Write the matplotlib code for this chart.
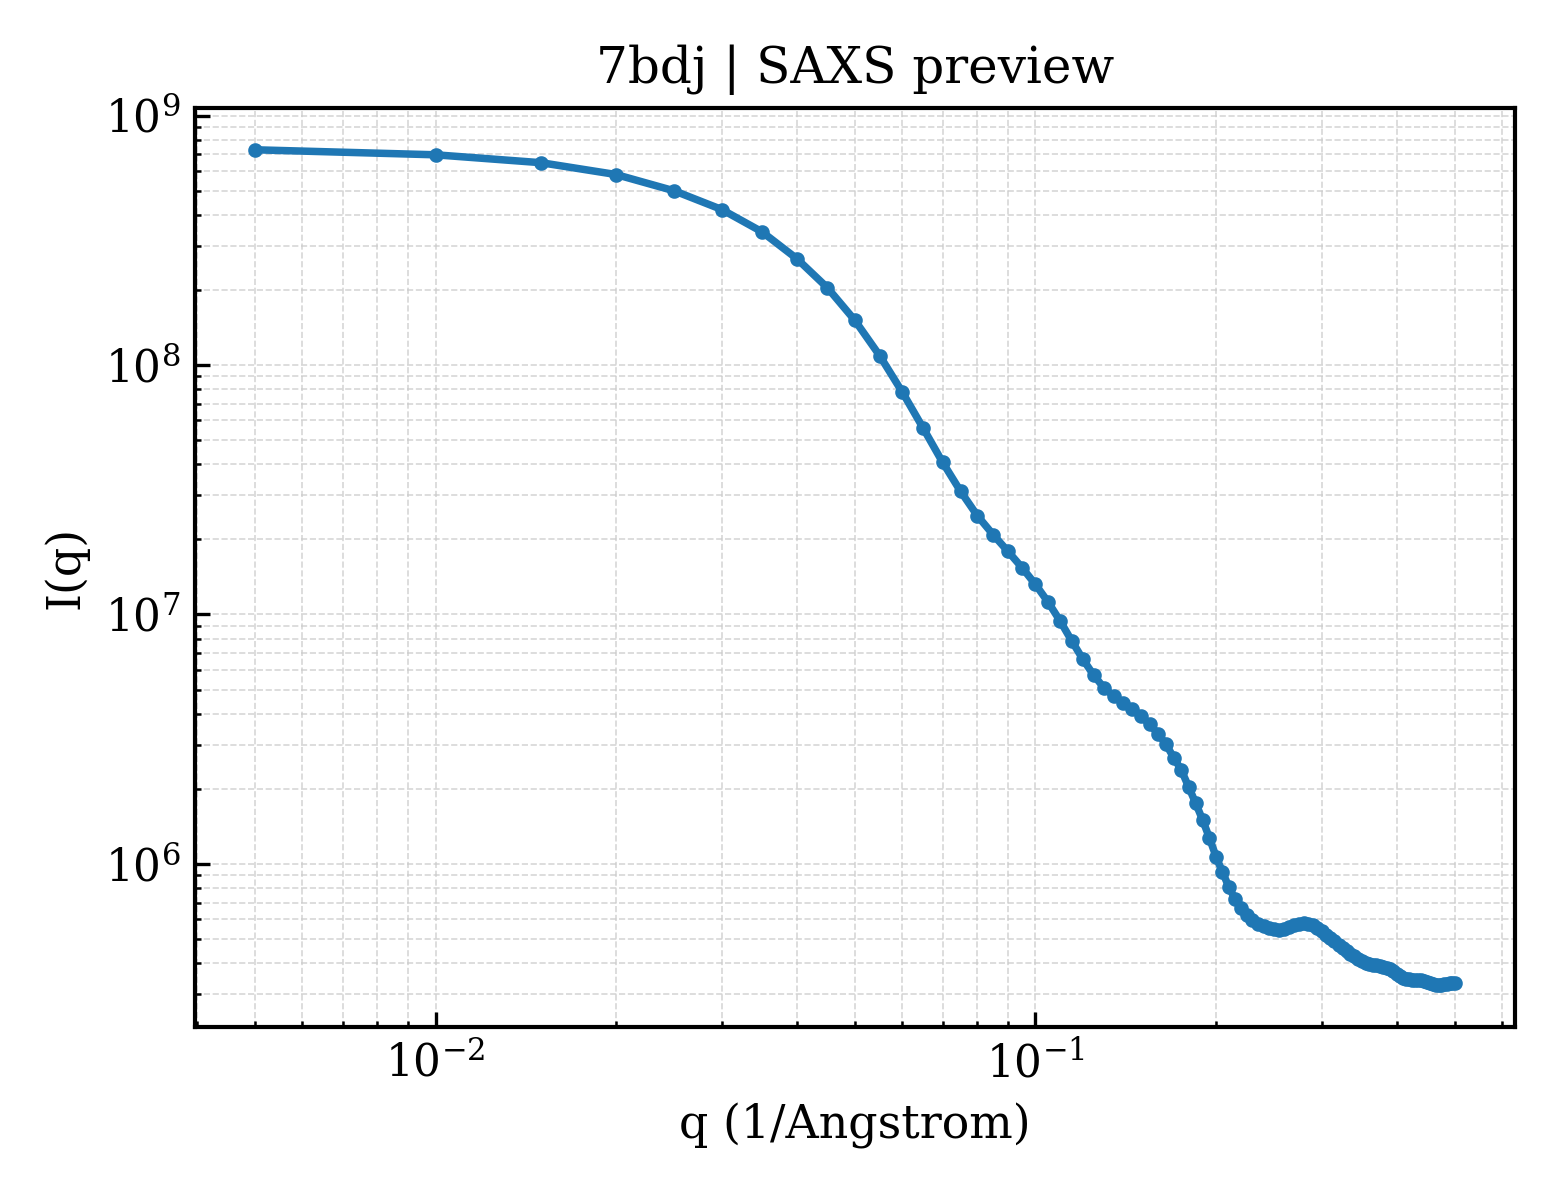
import matplotlib
matplotlib.use("Agg")
import matplotlib.pyplot as plt

plt.rcParams['font.family'] = ['DejaVu Serif']
plt.rcParams['mathtext.fontset'] = 'dejavuserif'

q = [0.005, 0.010, 0.015, 0.020, 0.025, 0.030, 0.035, 0.040, 0.045, 0.050,
     0.055, 0.060, 0.065, 0.070, 0.075, 0.080, 0.085, 0.090, 0.095, 0.100,
     0.105, 0.110, 0.115, 0.120, 0.125, 0.130, 0.135, 0.140, 0.145, 0.150,
     0.155, 0.160, 0.165, 0.170, 0.175, 0.180, 0.185, 0.190, 0.195, 0.200,
     0.205, 0.210, 0.215, 0.220, 0.225, 0.230, 0.235, 0.240, 0.245, 0.250,
     0.255, 0.260, 0.265, 0.270, 0.275, 0.280, 0.285, 0.290, 0.295, 0.300,
     0.305, 0.310, 0.315, 0.320, 0.325, 0.330, 0.335, 0.340, 0.345, 0.350,
     0.355, 0.360, 0.365, 0.370, 0.375, 0.380, 0.385, 0.390, 0.395, 0.400,
     0.405, 0.410, 0.415, 0.420, 0.425, 0.430, 0.435, 0.440, 0.445, 0.450,
     0.455, 0.460, 0.465, 0.470, 0.475, 0.480, 0.485, 0.490, 0.495, 0.500]

intensity = [7.29e8, 6.96e8, 6.47e8, 5.80e8, 4.99e8, 4.20e8, 3.42e8, 2.67e8, 2.04e8, 1.51e8,
             1.09e8, 7.78e7, 5.58e7, 4.08e7, 3.12e7, 2.49e7, 2.09e7, 1.79e7, 1.54e7, 1.32e7,
             1.12e7, 9.40e6, 7.82e6, 6.61e6, 5.72e6, 5.09e6, 4.71e6, 4.43e6, 4.17e6, 3.92e6,
             3.63e6, 3.33e6, 3.02e6, 2.67e6, 2.38e6, 2.04e6, 1.75e6, 1.50e6, 1.27e6, 1.07e6,
             9.27e5, 8.11e5, 7.24e5, 6.66e5, 6.27e5, 5.94e5, 5.76e5, 5.62e5, 5.53e5, 5.48e5,
             5.46e5, 5.49e5, 5.58e5, 5.69e5, 5.76e5, 5.79e5, 5.76e5, 5.67e5, 5.55e5, 5.41e5,
             5.21e5, 5.05e5, 4.89e5, 4.74e5, 4.62e5, 4.49e5, 4.37e5, 4.26e5, 4.17e5, 4.09e5,
             4.02e5, 3.98e5, 3.94e5, 3.92e5, 3.90e5, 3.86e5, 3.83e5, 3.78e5, 3.72e5, 3.63e5,
             3.56e5, 3.50e5, 3.47e5, 3.45e5, 3.44e5, 3.43e5, 3.42e5, 3.42e5, 3.40e5, 3.36e5,
             3.32e5, 3.29e5, 3.27e5, 3.26e5, 3.27e5, 3.29e5, 3.31e5, 3.33e5, 3.34e5, 3.33e5]

title = "7bdj | SAXS preview"
xlabel = "q (1/Angstrom)"
ylabel = "I(q)"

fig = plt.figure(figsize=(5.2, 4.0), dpi=300)
ax = fig.add_axes([0.125, 0.144, 0.846, 0.766])
ax.plot(q, intensity, '-o', color='#1f77b4', lw=1.8, ms=2.5)
ax.set_xscale('log')
ax.set_yscale('log')
ax.set_title(title, fontsize=12)
ax.set_xlabel(xlabel, fontsize=11)
ax.set_ylabel(ylabel, fontsize=11)
ax.tick_params(which='both', direction='in', top=False, right=False, labelsize=10.5)
ax.tick_params(which='major', length=3.5, width=0.8)
ax.tick_params(which='minor', length=1.5, width=0.6)
ax.grid(True, which='both', ls='--', lw=0.4, color='#cccccc', alpha=0.8)
for s in ax.spines.values():
    s.set_linewidth(1.0)
fig.savefig("out.png", dpi=300)
